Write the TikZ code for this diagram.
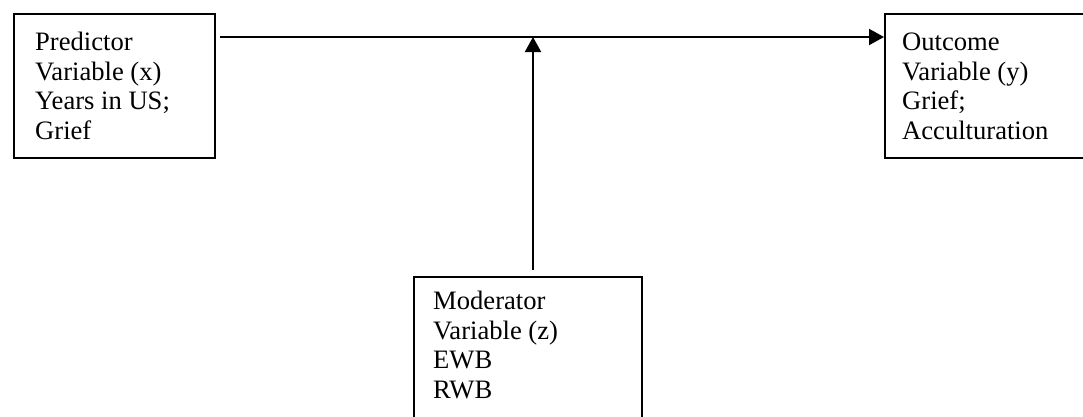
\documentclass[tikz,border=0pt]{standalone}
\usepackage{fontspec}
\setmainfont{Liberation Serif}
\usetikzlibrary{arrows.meta}
\tikzset{
  box/.style={draw=black, line width=2pt, inner sep=0pt, anchor=north west},
  txt/.style={inner sep=0pt, anchor=base west, align=left, font=\fontsize{26.6}{29.5}\selectfont},
  conn/.style={line width=2pt, -{Triangle[length=15pt,width=16pt]}}
}
\begin{document}
\begin{tikzpicture}[x=1pt,y=-1pt]
\useasboundingbox (0,0) rectangle (1083,416);
% boxes
\node[box, minimum width=201pt, minimum height=144pt] (pred) at (13,13) {};
\node[box, minimum width=210pt, minimum height=144pt] (out) at (884,13) {};
\node[box, minimum width=228pt, minimum height=160pt] (mod) at (413,276) {};
% texts (anchored at the baseline of the last line)
\node[txt] (predt) at (35,139) {Predictor\\Variable (x)\\Years in US;\\Grief};
\node[txt] (outt) at (902,139) {Outcome\\Variable (y)\\Grief;\\Acculturation};
\node[txt] (modt) at (433,398) {Moderator\\Variable (z)\\EWB\\RWB};
% connectors
\coordinate (hstart) at (220,37);
\coordinate (junct) at (533,37);
\coordinate (vstart) at (533,270);
\draw[conn] (hstart) -- (hstart -| out.west);
\draw[conn] (vstart) -- (junct);
\end{tikzpicture}
\end{document}
